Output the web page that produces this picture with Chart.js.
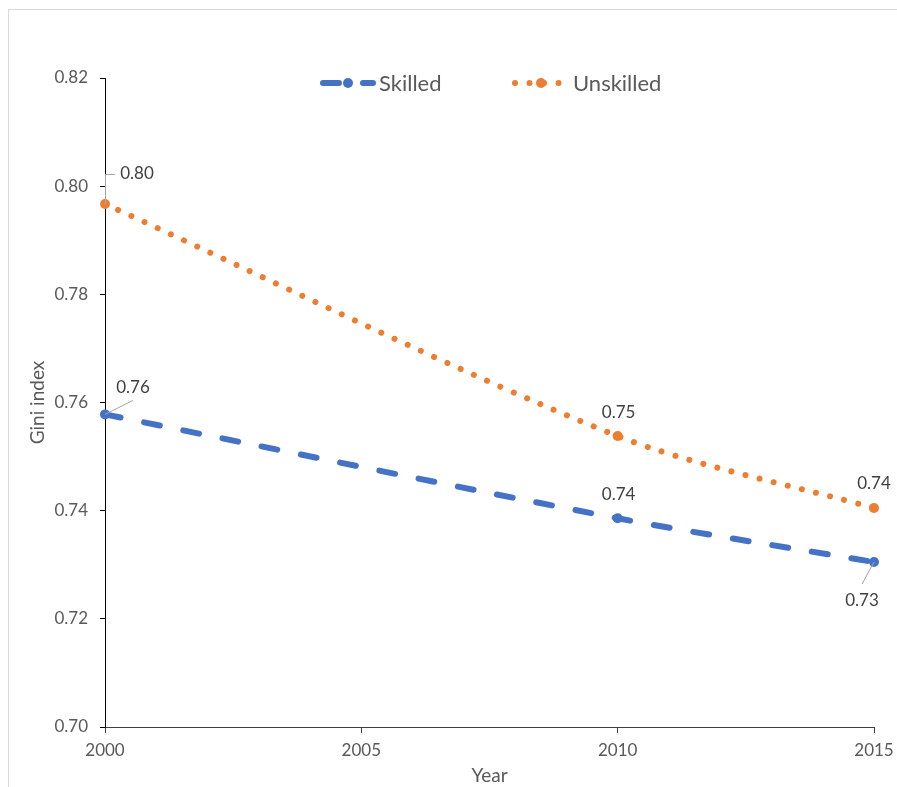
<!DOCTYPE html>
<html>
<head>
<meta charset="utf-8">
<script src="https://cdn.jsdelivr.net/npm/chart.js@4/dist/chart.umd.min.js"></script>
<style>
  html, body { margin: 0; padding: 0; background: #ffffff; }
  #wrap { position: relative; width: 897px; height: 787px; overflow: hidden; }
  canvas { display: block; }
</style>
</head>
<body>
<div id="wrap"><canvas id="chart" width="897" height="787"></canvas></div>
<script>
// Gini index by skill group
const years = [2000, 2010, 2015];
const skilled = [0.7578, 0.7386, 0.7305];
const unskilled = [0.7967, 0.7538, 0.7405];
const seriesNames = ['Skilled', 'Unskilled'];
const xTicks = [2000, 2005, 2010, 2015];
const yTicks = [0.70, 0.72, 0.74, 0.76, 0.78, 0.80, 0.82];

const BLUE = '#4472C4';
const ORANGE = '#ED7D31';
const FONT = 'Lato, "Open Sans", sans-serif';

// Label placement per point: text-centre offset from the point and leader style
const labelStyle = [
  [ {dx: 28, dy: -27, leader: 'straight'}, {dx: 1, dy: -24, leader: null}, {dx: -12, dy: 38, leader: 'straight'} ],
  [ {dx: 32, dy: -30, leader: 'elbow'},    {dx: 1, dy: -24, leader: null}, {dx: 0, dy: -24, leader: null} ]
];

const frame = {
  id: 'frame',
  beforeDraw(chart) {
    const ctx = chart.ctx;
    ctx.save();
    ctx.strokeStyle = '#d9d9d9';
    ctx.lineWidth = 1;
    ctx.strokeRect(8.5, 9.5, 1000, 1000);
    ctx.restore();
  }
};

const valueLabels = {
  id: 'valueLabels',
  afterDatasetsDraw(chart) {
    const ctx = chart.ctx;
    ctx.save();
    ctx.font = '17px ' + FONT;
    ctx.textAlign = 'center';
    ctx.textBaseline = 'middle';
    chart.data.datasets.forEach((ds, di) => {
      const meta = chart.getDatasetMeta(di);
      meta.data.forEach((pt, i) => {
        const st = labelStyle[di][i];
        const tx = pt.x + st.dx, ty = pt.y + st.dy;
        ctx.strokeStyle = '#a6a6a6';
        ctx.lineWidth = 1;
        if (st.leader === 'elbow') {
          ctx.beginPath();
          ctx.moveTo(pt.x + 0.5, pt.y);
          ctx.lineTo(pt.x + 0.5, ty + 0.5);
          ctx.lineTo(tx - 22, ty + 0.5);
          ctx.stroke();
        } else if (st.leader === 'straight') {
          const ay = ty + (st.dy < 0 ? 13 : -16);
          ctx.beginPath();
          ctx.moveTo(pt.x, pt.y);
          ctx.lineTo(tx, ay);
          ctx.stroke();
        }
        ctx.fillStyle = '#404040';
        ctx.fillText(ds.data[i].y.toFixed(2), tx, ty);
      });
    });
    ctx.restore();
  }
};

const legendBox = {
  id: 'legendBox',
  afterDraw(chart) {
    const ctx = chart.ctx;
    const y = 83;
    ctx.save();
    ctx.lineCap = 'round';
    // Skilled sample
    ctx.strokeStyle = BLUE; ctx.lineWidth = 6; ctx.setLineDash([16, 24]);
    ctx.beginPath(); ctx.moveTo(323, y); ctx.lineTo(373, y); ctx.stroke();
    ctx.setLineDash([]);
    ctx.fillStyle = BLUE; ctx.beginPath(); ctx.arc(348, y, 5, 0, Math.PI * 2); ctx.fill();
    // Unskilled sample
    ctx.strokeStyle = ORANGE; ctx.lineWidth = 6; ctx.setLineDash([0.01, 14.5]);
    ctx.beginPath(); ctx.moveTo(515, y); ctx.lineTo(561, y); ctx.stroke();
    ctx.setLineDash([]);
    ctx.fillStyle = ORANGE; ctx.beginPath(); ctx.arc(541, y, 5, 0, Math.PI * 2); ctx.fill();
    // Text
    ctx.font = '22px ' + FONT;
    ctx.fillStyle = '#595959';
    ctx.textAlign = 'left';
    ctx.textBaseline = 'middle';
    ctx.fillText(seriesNames[0], 379, y + 1);
    ctx.fillText(seriesNames[1], 573, y + 1);
    ctx.restore();
  }
};

new Chart(document.getElementById('chart'), {
  type: 'line',
  data: {
    datasets: [
      {
        label: seriesNames[0],
        data: years.map((x, i) => ({x, y: skilled[i]})),
        borderColor: BLUE, backgroundColor: BLUE,
        borderWidth: 6, borderDash: [16, 24], borderCapStyle: 'round',
        pointRadius: 5, pointBorderWidth: 0, pointBackgroundColor: BLUE,
        tension: 0.3, clip: false
      },
      {
        label: seriesNames[1],
        data: years.map((x, i) => ({x, y: unskilled[i]})),
        borderColor: ORANGE, backgroundColor: ORANGE,
        borderWidth: 6, borderDash: [0.01, 14.5], borderCapStyle: 'round',
        pointRadius: 5, pointBorderWidth: 0, pointBackgroundColor: ORANGE,
        tension: 0.3, clip: false
      }
    ]
  },
  options: {
    responsive: false,
    animation: false,
    events: [],
    layout: { padding: { left: 0, top: 78, right: 23, bottom: 0 } },
    plugins: { legend: { display: false }, tooltip: { enabled: false }, title: { display: false } },
    scales: {
      x: {
        type: 'linear',
        min: xTicks[0], max: xTicks[xTicks.length - 1],
        afterBuildTicks(scale) { scale.ticks = xTicks.map(v => ({value: v})); },
        afterFit(scale) { scale.height = 60; scale.paddingLeft = 0; scale.paddingRight = 0; },
        grid: { display: true, drawOnChartArea: false, drawTicks: true, tickLength: 6, tickColor: '#404040' },
        border: { display: true, color: '#404040', width: 1 },
        ticks: { color: '#595959', font: { family: FONT, size: 17 }, padding: 7, maxRotation: 0,
                 callback: v => String(v) },
        title: { display: true, text: 'Year', color: '#595959', font: { family: FONT, size: 19 },
                 padding: { top: 0, bottom: 0 } }
      },
      y: {
        min: yTicks[0], max: yTicks[yTicks.length - 1],
        afterBuildTicks(scale) { scale.ticks = yTicks.map(v => ({value: v})); },
        afterFit(scale) { scale.width = 105; scale.paddingTop = 0; scale.paddingBottom = 0; },
        grid: { display: true, drawOnChartArea: false, drawTicks: true, tickLength: 5, tickColor: '#000000' },
        border: { display: true, color: '#000000', width: 1 },
        ticks: { color: '#595959', font: { family: FONT, size: 17 }, padding: 12,
                 callback: v => Number(v).toFixed(2) },
        title: { display: true, text: 'Gini index', color: '#595959', font: { family: FONT, size: 19 },
                 padding: { top: 26, bottom: 0 } }
      }
    }
  },
  plugins: [frame, valueLabels, legendBox]
});
</script>
</body>
</html>
